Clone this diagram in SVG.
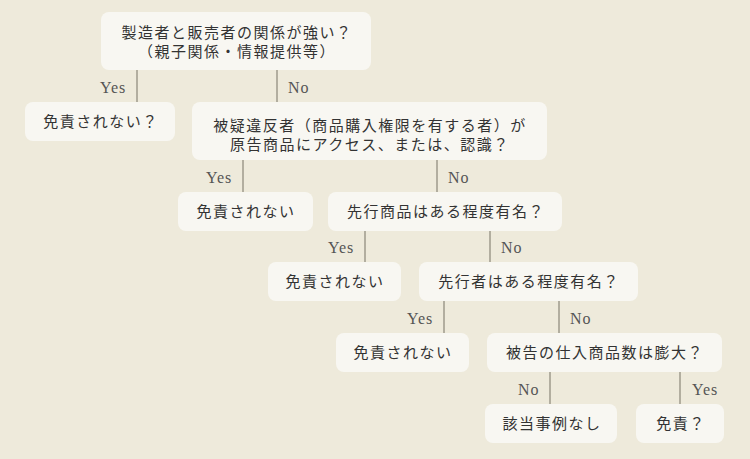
<svg xmlns="http://www.w3.org/2000/svg" width="750" height="459" viewBox="0 0 750 459">
<style>
.bg{fill:#EEEADB}
.box{fill:#F8F7F2}
.t{font-family:"Noto Sans CJK JP","Noto Sans CJK SC",sans-serif;font-size:15px;fill:#333;text-anchor:middle;letter-spacing:1.5px}
.lab{font-family:"Liberation Serif","DejaVu Serif",serif;font-size:16px;fill:#555;letter-spacing:1px}
.ln{stroke:#8a8578;stroke-width:1.2;fill:none}
</style>
<rect class="bg" x="0" y="0" width="750" height="459"/>
<g id="connectors">
<line class="ln" x1="137" y1="70" x2="137" y2="102"/>
<line class="ln" x1="277" y1="70" x2="277" y2="102"/>
<line class="ln" x1="243" y1="160" x2="243" y2="192"/>
<line class="ln" x1="437" y1="160" x2="437" y2="192"/>
<line class="ln" x1="365" y1="231" x2="365" y2="262"/>
<line class="ln" x1="490" y1="231" x2="490" y2="262"/>
<line class="ln" x1="444" y1="301" x2="444" y2="333"/>
<line class="ln" x1="559" y1="301" x2="559" y2="333"/>
<line class="ln" x1="550" y1="372" x2="550" y2="404"/>
<line class="ln" x1="680" y1="372" x2="680" y2="404"/>
<text class="lab" x="100" y="93">Yes</text>
<text class="lab" x="288" y="93">No</text>
<text class="lab" x="206" y="183">Yes</text>
<text class="lab" x="448" y="183">No</text>
<text class="lab" x="328" y="253">Yes</text>
<text class="lab" x="501" y="253">No</text>
<text class="lab" x="407" y="324">Yes</text>
<text class="lab" x="570" y="324">No</text>
<text class="lab" x="518" y="395">No</text>
<text class="lab" x="692" y="395">Yes</text>
</g>
<g id="n1"><rect class="box" x="101" y="12" width="270" height="58" rx="8"/>
<text class="t" x="237" y="38">製造者と販売者の関係が強い？</text>
<text class="t" x="237" y="57">（親子関係・情報提供等）</text></g>
<g id="n2"><rect class="box" x="25" y="102" width="150" height="39" rx="8"/>
<text class="t" x="101" y="127">免責されない？</text></g>
<g id="n3"><rect class="box" x="192" y="102" width="355" height="58" rx="8"/>
<text class="t" x="370" y="131">被疑違反者（商品購入権限を有する者）が</text>
<text class="t" x="370" y="150">原告商品にアクセス、または、認識？</text></g>
<g id="n4"><rect class="box" x="178" y="192" width="135" height="39" rx="8"/>
<text class="t" x="246" y="217">免責されない</text></g>
<g id="n5"><rect class="box" x="328" y="192" width="234" height="39" rx="8"/>
<text class="t" x="446" y="217">先行商品はある程度有名？</text></g>
<g id="n6"><rect class="box" x="268" y="262" width="133" height="39" rx="8"/>
<text class="t" x="335" y="287">免責されない</text></g>
<g id="n7"><rect class="box" x="419" y="262" width="219" height="39" rx="8"/>
<text class="t" x="529" y="287">先行者はある程度有名？</text></g>
<g id="n8"><rect class="box" x="336" y="333" width="133" height="39" rx="8"/>
<text class="t" x="403" y="358">免責されない</text></g>
<g id="n9"><rect class="box" x="487" y="333" width="235" height="39" rx="8"/>
<text class="t" x="605" y="358">被告の仕入商品数は膨大？</text></g>
<g id="n10"><rect class="box" x="485" y="404" width="132" height="39" rx="8"/>
<text class="t" x="552" y="429">該当事例なし</text></g>
<g id="n11"><rect class="box" x="636" y="404" width="88" height="39" rx="8"/>
<text class="t" x="681" y="429">免責？</text></g>
</svg>
